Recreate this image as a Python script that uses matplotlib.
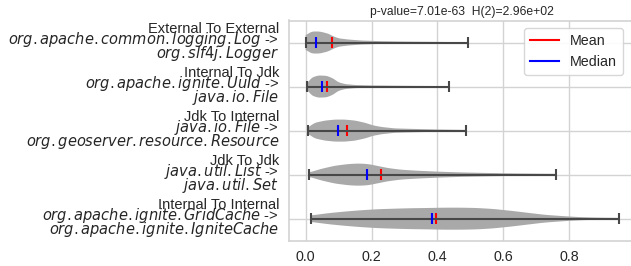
import matplotlib
matplotlib.use("Agg")
import matplotlib.pyplot as plt
from matplotlib.lines import Line2D
import numpy as np

plt.rcParams['font.family'] = ['Liberation Sans', 'DejaVu Sans']
plt.rcParams['mathtext.fontset'] = 'dejavusans'

categories = [
    "External To External\n$org.apache.common.logging.Log$ -> \n$org.slf4j.Logger$",
    "Internal To Jdk\n$org.apache.ignite.UuId$ -> \n$java.io.File$",
    "Jdk To Internal\n$java.io.File$ -> \n$org.geoserver.resource.Resource$",
    "Jdk To Jdk\n$java.util.List$ -> \n$java.util.Set$",
    "Internal To Internal\n$org.apache.ignite.GridCache$ -> \n$org.apache.ignite.IgniteCache$",
]
means = [0.079, 0.064, 0.124, 0.228, 0.395]
medians = [0.031, 0.049, 0.099, 0.185, 0.383]
mins = [0.0, 0.005, 0.006, 0.011, 0.015]
maxs = [0.493, 0.435, 0.486, 0.761, 0.951]

coords0 = [0.0, 0.018, 0.043, 0.069, 0.084, 0.10, 0.13, 0.17, 0.23, 0.29, 0.35, 0.42, 0.493]
dens0 = [0.65, 1.0, 1.0, 0.8, 0.56, 0.38, 0.27, 0.18, 0.12, 0.09, 0.07, 0.05, 0.03]
coords1 = [0.005, 0.018, 0.038, 0.064, 0.084, 0.099, 0.12, 0.15, 0.2, 0.26, 0.33, 0.435]
dens1 = [0.3, 0.8, 1.0, 0.97, 0.72, 0.39, 0.22, 0.14, 0.1, 0.08, 0.06, 0.04]
coords2 = [0.006, 0.028, 0.059, 0.089, 0.119, 0.15, 0.18, 0.205, 0.23, 0.27, 0.33, 0.4, 0.486]
dens2 = [0.27, 0.71, 0.91, 1.0, 1.0, 0.91, 0.71, 0.47, 0.33, 0.2, 0.15, 0.1, 0.06]
coords3 = [0.011, 0.049, 0.089, 0.129, 0.16, 0.19, 0.22, 0.25, 0.29, 0.34, 0.40, 0.47, 0.55, 0.65, 0.761]
dens3 = [0.2, 0.53, 0.8, 0.95, 1.0, 0.95, 0.77, 0.59, 0.44, 0.35, 0.27, 0.2, 0.15, 0.1, 0.07]
coords4 = [0.015, 0.069, 0.12, 0.17, 0.22, 0.27, 0.32, 0.37, 0.42, 0.47, 0.52, 0.57, 0.625,
           0.675, 0.726, 0.777, 0.827, 0.878, 0.951]
dens4 = [0.29, 0.5, 0.65, 0.77, 0.86, 0.91, 0.95, 0.97, 1.0, 1.0, 0.97, 0.88, 0.71,
         0.53, 0.35, 0.24, 0.15, 0.1, 0.07]

all_coords = [coords0, coords1, coords2, coords3, coords4]
all_dens = [dens0, dens1, dens2, dens3, dens4]

W, H = 631, 266
fig = plt.figure(figsize=(W / 100, H / 100), dpi=100)
ax_l, ax_r, ax_t, ax_b = 289.3, 635.0, 20.5, 240.7
ax = fig.add_axes([ax_l / W, (H - ax_b) / H, (ax_r - ax_l) / W, (ax_b - ax_t) / H])
ax.set_facecolor('white')

vpstats = []
for i in range(len(categories)):
    c = np.array(all_coords[i])
    d = np.array(all_dens[i])
    fine = np.linspace(c[0], c[-1], 200)
    vals = np.interp(fine, c, d)
    k = np.ones(7) / 7
    pad = np.pad(vals, 3, mode='edge')
    vals = np.convolve(pad, k, mode='valid')
    vpstats.append(dict(coords=fine, vals=vals, mean=means[i], median=medians[i],
                        min=mins[i], max=maxs[i]))

positions = list(range(len(categories)))
ax.set_axisbelow(True)
parts = ax.violin(vpstats, positions=positions, orientation='horizontal', widths=0.5,
                  showmeans=True, showextrema=True, showmedians=True)
for b in parts['bodies']:
    b.set_facecolor('#a9a9a9')
    b.set_edgecolor('none')
    b.set_alpha(1)
for key in ['cbars', 'cmins', 'cmaxes']:
    parts[key].set_color('#484848')
    parts[key].set_linewidth(1.5)
parts['cmedians'].set_color('blue')
parts['cmedians'].set_linewidth(1.5)
parts['cmeans'].set_color('red')
parts['cmeans'].set_linewidth(1.5)

ax.set_xlim(-0.0497, 0.9994)
ax.set_ylim(4.5, -0.5)
ax.set_xticks([0.0, 0.2, 0.4, 0.6, 0.8])
ax.set_yticks(positions)
ax.set_yticklabels(categories, linespacing=0.6)
ax.grid(True, color='#d3d3d3', linewidth=1)
for s in ax.spines.values():
    s.set_color('#d3d3d3')
    s.set_linewidth(1.2)
ax.tick_params(axis='both', length=0, colors='#262626', labelsize=10.3)
ax.tick_params(axis='y', pad=7.2, labelsize=10.5)
ax.tick_params(axis='x', pad=7)

ax.set_title("p-value=7.01e-63  H(2)=2.96e+02", fontsize=8.7, pad=4, color='#262626')

handles = [Line2D([], [], color='red', lw=1.5), Line2D([], [], color='blue', lw=1.5)]
leg = ax.legend(handles, ['Mean', 'Median'], loc='upper right',
                bbox_to_anchor=(0.9645, 0.9646), borderaxespad=0, fontsize=10.3,
                frameon=True, fancybox=True, edgecolor='#d3d3d3', framealpha=0.9)
for t in leg.get_texts():
    t.set_color('#262626')

fig.savefig('out.png', dpi=100, facecolor='white')
